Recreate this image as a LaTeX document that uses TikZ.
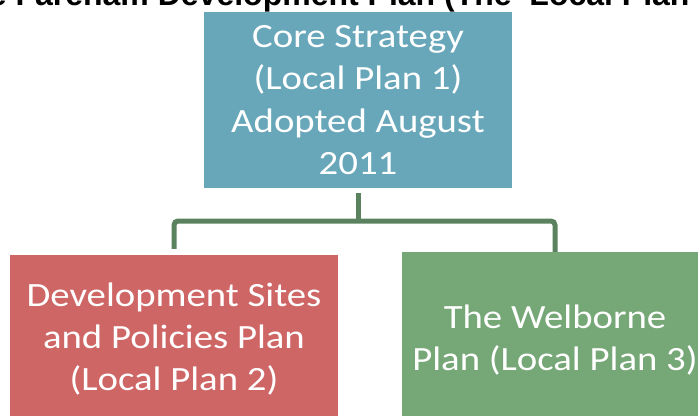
\documentclass[tikz,border=0pt]{standalone}
\usepackage{fontspec}
\usepackage{tikz}
\setmainfont{Carlito}
\newfontfamily\boxfont[FakeStretch=1.14]{Carlito}
\newfontfamily\titlefont{Liberation Sans}
\definecolor{coreblue}{RGB}{104,167,186}
\definecolor{sitered}{RGB}{207,102,102}
\definecolor{welbgreen}{RGB}{118,167,119}
\definecolor{linkgreen}{RGB}{91,130,95}
\tikzset{
	plan/.style={rectangle, inner sep=0pt, align=center, text=white,
		font=\boxfont\fontsize{34}{42.3}\selectfont, minimum height=176pt},
	link/.style={draw=linkgreen, line width=5pt, rounded corners=4pt},
	heading/.style={anchor=base west, inner sep=0pt,
		font=\titlefont\bfseries\fontsize{32}{38}\selectfont}
}

\begin{document}
\begin{tikzpicture}[x=1pt, y=-1pt]
	\useasboundingbox (0,0) rectangle (698,415);
	\clip (0,0) rectangle (698,415);
	% title, cut off at the top of the picture
	\node[heading] (title) at (-50.4,5.5) {The Fareham Development Plan (The ‘Local Plan’)};
	% plans
	\node[plan, fill=coreblue, minimum width=308pt] (core) at (358,100)
		{Core Strategy\\(Local Plan 1)\\Adopted August\\2011};
	\node[plan, fill=sitered, minimum width=328pt, minimum height=168pt] (dsp) at (174,339)
		{Development Sites\\and Policies Plan\\(Local Plan 2)};
	\node[plan, fill=welbgreen, minimum width=306pt] (wbp) at (555,340)
		{The Welborne\\Plan (Local Plan 3)};
	% connectors
	\coordinate (fork) at (358,221);
	\draw[link] ([yshift=-5pt]core.south) -- (fork);
	\draw[link] (fork) -| ([yshift=6pt]dsp.north);
	\draw[link] (fork) -| (wbp.north);
\end{tikzpicture}
\end{document}
